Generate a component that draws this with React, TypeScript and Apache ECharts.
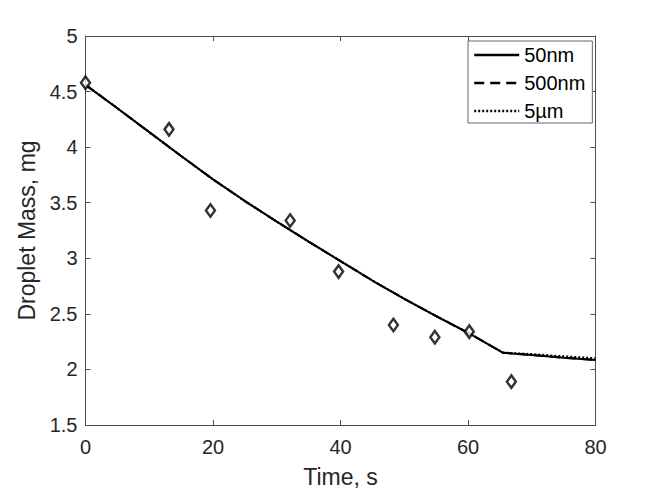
import React, { useEffect, useRef } from "react";
import * as echarts from "echarts";

const times = [0, 5, 10, 15, 20, 25, 30, 35, 40, 45, 50, 55, 60, 65.5, 70, 75, 80];
const mass50nm = [4.56, 4.35, 4.135, 3.92, 3.71, 3.515, 3.33, 3.15, 2.975, 2.8, 2.635, 2.48, 2.33, 2.15, 2.13, 2.105, 2.085];
const mass500nm = [4.56, 4.35, 4.135, 3.92, 3.71, 3.515, 3.33, 3.15, 2.975, 2.8, 2.635, 2.48, 2.33, 2.15, 2.13, 2.105, 2.085];
const mass5um = [4.56, 4.35, 4.135, 3.92, 3.71, 3.515, 3.33, 3.15, 2.975, 2.8, 2.635, 2.48, 2.33, 2.152, 2.138, 2.118, 2.1];
const expTime = [0, 13.1, 19.6, 32.1, 39.7, 48.3, 54.8, 60.2, 66.8];
const expMass = [4.58, 4.16, 3.43, 3.34, 2.88, 2.4, 2.29, 2.34, 1.89];
const seriesNames = ["50nm", "500nm", "5\u00b5m"];

const FONT = "Liberation Sans, Arial, Helvetica, sans-serif";
const TEXT = "#262626";
const AXIS = "#4d4d4d";

export default function App() {
  const ref = useRef<HTMLDivElement>(null);
  useEffect(() => {
    if (!ref.current) return;
    const chart = echarts.init(ref.current, undefined, { renderer: "svg" });
    const pair = (xs: number[], ys: number[]) => xs.map((x, i) => [x, ys[i]]);
    const axisCommon = {
      axisLine: { show: true, onZero: false, lineStyle: { color: AXIS, width: 1 } },
      axisTick: { show: true, inside: true, length: 5, lineStyle: { color: AXIS, width: 1 } },
      splitLine: { show: false },
    };
    chart.setOption({
      animation: false,
      backgroundColor: "#ffffff",
      textStyle: { fontFamily: FONT },
      grid: { left: 85.5, right: 62.5, top: 36, bottom: 69, containLabel: false },
      legend: {
        data: seriesNames,
        orient: "vertical",
        left: 468,
        top: 41,
        padding: [4, 7, 2, 5],
        itemGap: 8,
        itemWidth: 45,
        itemHeight: 14,
        backgroundColor: "#ffffff",
        borderColor: "#666666",
        borderWidth: 1,
        itemStyle: { opacity: 0 },
        lineStyle: { width: 2.4 },
        textStyle: { fontSize: 20, color: "#000000", fontFamily: FONT },
      },
      xAxis: [
        {
          type: "value",
          min: 0,
          max: 80,
          interval: 20,
          name: "Time, s",
          nameLocation: "middle",
          nameGap: 40,
          nameTextStyle: { fontSize: 23, color: TEXT, fontFamily: FONT },
          axisLabel: { fontSize: 20, color: TEXT, margin: 12, fontFamily: FONT },
          ...axisCommon,
        },
        {
          type: "value",
          position: "top",
          min: 0,
          max: 80,
          interval: 20,
          axisLabel: { show: false },
          ...axisCommon,
        },
      ],
      yAxis: [
        {
          type: "value",
          min: 1.5,
          max: 5,
          interval: 0.5,
          name: "Droplet Mass, mg",
          nameLocation: "middle",
          nameGap: 46,
          nameTextStyle: { fontSize: 23, color: TEXT, fontFamily: FONT },
          axisLabel: { fontSize: 20, color: TEXT, margin: 8, fontFamily: FONT },
          ...axisCommon,
        },
        {
          type: "value",
          position: "right",
          min: 1.5,
          max: 5,
          interval: 0.5,
          axisLabel: { show: false },
          ...axisCommon,
        },
      ],
      series: [
        {
          name: seriesNames[0],
          type: "line",
          data: pair(times, mass50nm),
          symbol: "none",
          lineStyle: { color: "#000000", width: 2, type: "solid" },
          itemStyle: { color: "#000000" },
          z: 3,
        },
        {
          name: seriesNames[1],
          type: "line",
          data: pair(times, mass500nm),
          symbol: "none",
          lineStyle: { color: "#000000", width: 2, type: [10, 6] },
          itemStyle: { color: "#000000" },
          z: 4,
        },
        {
          name: seriesNames[2],
          type: "line",
          data: pair(times, mass5um),
          symbol: "none",
          lineStyle: { color: "#000000", width: 2, type: [2, 2] },
          itemStyle: { color: "#000000" },
          z: 5,
        },
        {
          name: "Experiment",
          type: "scatter",
          data: pair(expTime, expMass),
          symbol: "diamond",
          symbolSize: [9, 12.5],
          itemStyle: { color: "#ffffff", borderColor: "#000000", borderWidth: 2.5 },
          z: 6,
        },
      ],
    });
    return () => chart.dispose();
  }, []);
  return (
    <div
      ref={ref}
      style={{ position: "fixed", left: 0, top: 0, width: 658, height: 494, background: "#fff" }}
    />
  );
}
